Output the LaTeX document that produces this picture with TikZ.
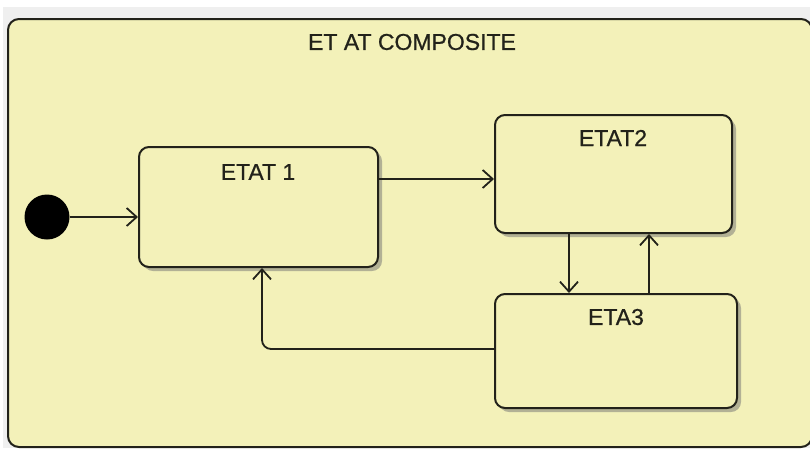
\documentclass[tikz,border=0pt]{standalone}
\usepackage{fontspec}
\setmainfont{Liberation Sans}[FakeBold=0.7]
\usetikzlibrary{arrows.meta,shadows}
\definecolor{statefill}{RGB}{243,241,185}
\definecolor{stateline}{RGB}{34,34,26}
\definecolor{pagegrey}{RGB}{239,239,239}
\tikzset{
  statebox/.style={draw=stateline, line width=2pt, fill=statefill,
    rounded corners=10pt, inner sep=0pt,
    drop shadow={shadow xshift=4pt, shadow yshift=-4pt, opacity=0.5, fill=black!55}},
  compositebox/.style={draw=stateline, line width=2pt, fill=statefill,
    rounded corners=11pt, inner sep=0pt},
  statelabel/.style={font=\fontsize{23}{27}\selectfont, text=stateline, inner sep=0pt},
  initstate/.style={circle, fill=black, inner sep=0pt, minimum size=45pt},
  trans/.style={draw=stateline, line width=1.8pt,
    -{Straight Barb[length=10pt,width=18pt,line width=1.8pt]}},
}
\begin{document}
\begin{tikzpicture}[x=1pt,y=-1pt]
  % page background
  \fill[white] (0,0) rectangle (810,448);
  \useasboundingbox (0,0) rectangle (810,448);
  \fill[pagegrey] (3,7) rectangle (810,448);

  % composite state
  \node[compositebox, minimum width=804pt, minimum height=428pt] (comp) at (410,233) {};
  \node[statelabel] (comptitle) at (412,42) {ET AT COMPOSITE};

  % initial pseudo-state
  \node[initstate] (init) at (47,217) {};

  % substates
  \node[statebox, minimum width=239pt, minimum height=120pt] (e1) at (258.5,207) {};
  \node[statelabel] (e1lab) at (258,172) {ETAT 1};

  \node[statebox, minimum width=237pt, minimum height=118pt] (e2) at (613.5,174) {};
  \node[statelabel] (e2lab) at (613,138) {ETAT2};

  \node[statebox, minimum width=242pt, minimum height=114pt] (e3) at (616,351) {};
  \node[statelabel] (e3lab) at (616,317) {ETA3};

  % transitions
  \draw[trans] (init.east |- 0,217) -- (e1.west |- 0,217);
  \draw[trans] ([yshift=28pt]e1.east) -- ([yshift=28pt]e1.east -| e2.west);
  \draw[trans] ([xshift=-44.5pt]e2.south) -- ([xshift=-44.5pt]e2.south |- e3.north);
  \draw[trans] ([xshift=35.5pt]e2.south |- e3.north) -- ([xshift=35.5pt]e2.south);
  \draw[trans, rounded corners=9pt] ([yshift=2pt]e3.west) -| ([xshift=3.5pt]e1.south);
\end{tikzpicture}
\end{document}
